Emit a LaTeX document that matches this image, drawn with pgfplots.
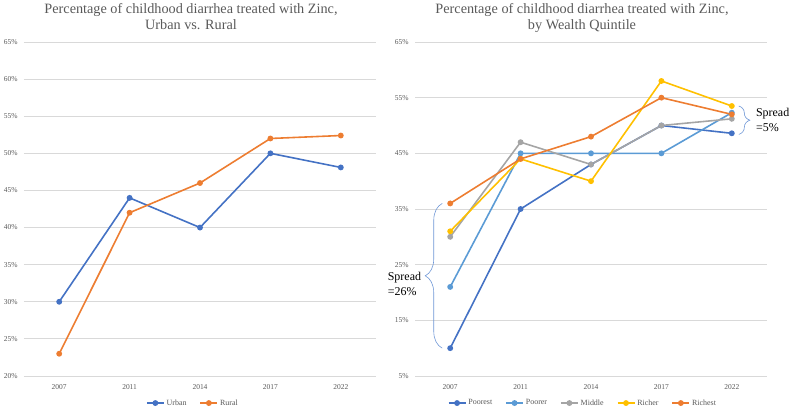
\documentclass[border=0pt]{standalone}
\usepackage{fontspec}
\setmainfont{Liberation Serif}
\usepackage{pgfplots}
\pgfplotsset{compat=1.18}
\usetikzlibrary{decorations.pathreplacing}
\definecolor{cPoorest}{HTML}{4472C4}
\definecolor{cPoorer}{HTML}{5B9BD5}
\definecolor{cMiddle}{HTML}{A5A5A5}
\definecolor{cRicher}{HTML}{FFC000}
\definecolor{cRichest}{HTML}{ED7D31}
\definecolor{gridgray}{HTML}{D9D9D9}
\definecolor{txtgray}{HTML}{595959}
\definecolor{braceblue}{HTML}{6F97D6}
\begin{document}
\begin{tikzpicture}
\useasboundingbox (-24bp,-31bp) rectangle (768bp,376bp);
\pgfplotsset{
  base/.style={
    scale only axis, width=352bp, height=334bp,
    xmin=-0.5, xmax=4.5, xtick={0,...,4},
    xticklabels={2007,2011,2014,2017,2022},
    axis x line=bottom, axis y line=left,
    x axis line style={draw=gridgray, line width=0.8pt, -},
    y axis line style={draw=none},
    major tick length=0pt,
    ymajorgrids, grid style={draw=gridgray, line width=0.8pt},
    ticklabel style={font=\fontsize{7.5}{9}\selectfont, text=txtgray},
    /pgf/number format/assume math mode=true,
    yticklabel={\pgfmathprintnumber{\tick}\%},
    yticklabel style={xshift=-3bp},
    xticklabel style={yshift=-5bp},
    title style={font=\fontsize{14.3}{16}\selectfont, text=txtgray, align=center,
      anchor=north, inner sep=0pt, at={(axis description cs:0.5,1)}, xshift=-9bp, yshift=33bp},
    legend style={draw=none, fill=none, legend columns=-1, at={(axis description cs:0.48,-0.081)},
      anchor=center, font=\fontsize{8}{9}\selectfont, text=txtgray,
      /tikz/every even column/.append style={column sep=11bp}},
    every axis plot/.append style={line width=1.6pt, mark=*, mark size=2.1pt},
    clip=false,
  }
}
\begin{axis}[base, ymin=20, ymax=65, ytick={20,25,...,65},
  title={Percentage of childhood diarrhea treated with Zinc,\\Urban vs. Rural}]
\addplot[color=cPoorest] coordinates {(0,30) (1,44) (2,40) (3,50) (4,48.1)};
\addlegendentry{Urban}
\addplot[color=cRichest] coordinates {(0,23) (1,42) (2,46) (3,52) (4,52.4)};
\addlegendentry{Rural}
\end{axis}
\begin{axis}[base, at={(391bp,0)}, ymin=5, ymax=65, ytick={5,15,...,65},
  legend style={at={(axis description cs:0.477,-0.081)}},
  title={Percentage of childhood diarrhea treated with Zinc,\\by Wealth Quintile}]
\addplot[color=cPoorest] coordinates {(0,10) (1,35) (2,43) (3,50) (4,48.6)};
\addlegendentry{Poorest}
\addplot[color=cPoorer] coordinates {(0,21) (1,45) (2,45) (3,45) (4,52.3)};
\addlegendentry{Poorer}
\addplot[color=cMiddle] coordinates {(0,30) (1,47) (2,43) (3,50) (4,51.2)};
\addlegendentry{Middle}
\addplot[color=cRicher] coordinates {(0,31) (1,44) (2,40) (3,58) (4,53.5)};
\addlegendentry{Richer}
\addplot[color=cRichest] coordinates {(0,36) (1,44) (2,48) (3,55) (4,52)};
\addlegendentry{Richest}
\draw[braceblue, line width=0.6pt, decorate, decoration={brace, amplitude=17bp}]
  (axis cs:-0.113,10) -- (axis cs:-0.113,36);
\node[anchor=east, align=left, font=\fontsize{12}{15}\selectfont, inner sep=0pt]
  at ([xshift=-21bp,yshift=-8bp]axis cs:-0.113,23) {Spread\\=26\%};
\draw[braceblue, line width=0.6pt, decorate, decoration={brace, amplitude=11bp}]
  (axis cs:4.1,53.5) -- (axis cs:4.1,48.4);
\node[anchor=west, align=left, font=\fontsize{12}{15}\selectfont, inner sep=0pt]
  at ([xshift=17bp]axis cs:4.1,50.95) {Spread\\=5\%};
\end{axis}
\end{tikzpicture}
\end{document}
